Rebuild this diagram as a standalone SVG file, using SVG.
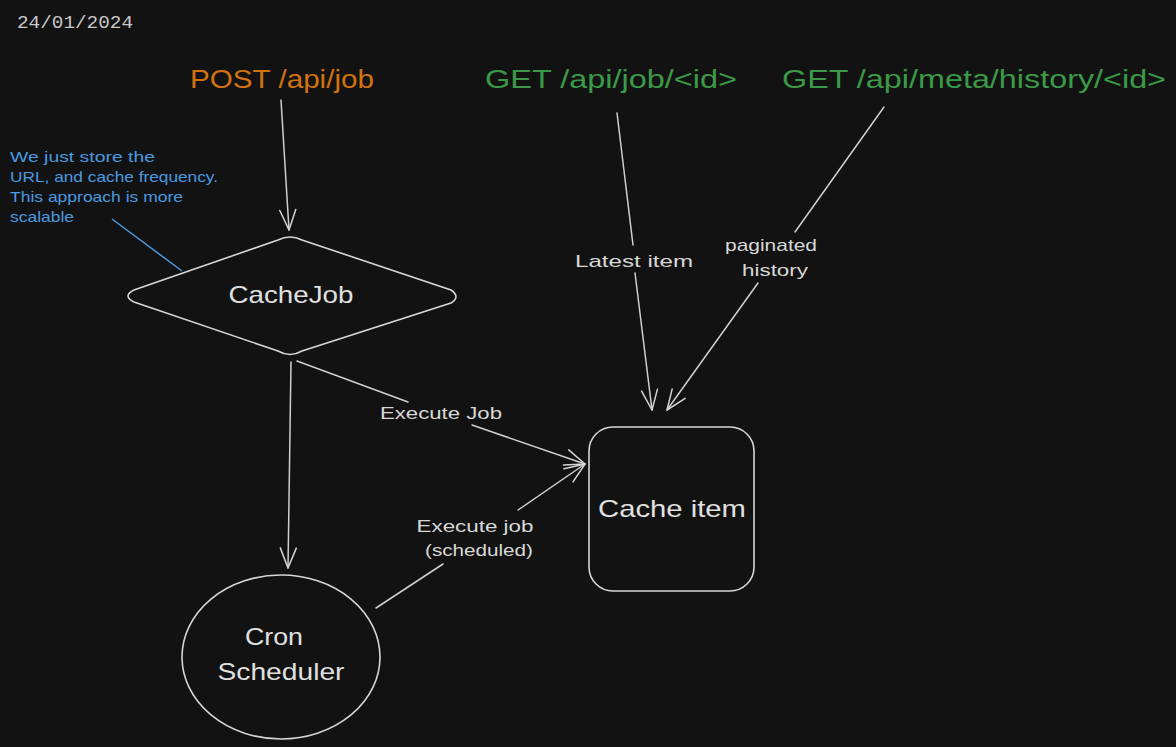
<svg xmlns="http://www.w3.org/2000/svg" width="1176" height="747" viewBox="0 0 1176 747">
<defs>
<style>
.hand{font-family:"Liberation Sans","Open Sans",sans-serif;}
.lbl{font-size:17px;fill:#d8d8d8;text-anchor:middle;}
.node{font-size:24px;fill:#e0e0e0;text-anchor:middle;}
.api{font-size:26px;text-anchor:middle;}
.shape{fill:none;stroke:#d6d6d6;stroke-width:1.6;}
.conn{fill:none;stroke:#d0d0d0;stroke-width:1.5;stroke-linecap:round;}
.note{font-size:15px;fill:#4a9ae0;}
</style>
<marker id="arr" viewBox="-22 -12 24 24" markerWidth="24" markerHeight="24" refX="0" refY="0" orient="auto" markerUnits="userSpaceOnUse">
<path d="M-20,-8 L0,0 L-20,8" fill="none" stroke="#d6d6d6" stroke-width="1.5" stroke-linecap="round" stroke-linejoin="round"/>
</marker>
</defs>
<rect width="1176" height="747" fill="#121212"/>
<text x="17" y="28" font-family="'Liberation Mono','DejaVu Sans Mono',monospace" font-size="18" fill="#c8c8c8" textLength="116" lengthAdjust="spacingAndGlyphs">24/01/2024</text>

<g id="post-api" class="hand">
<text class="api" x="282" y="88" fill="#d0720f" textLength="184" lengthAdjust="spacingAndGlyphs">POST /api/job</text>
</g>
<g id="get-job" class="hand">
<text class="api" x="611" y="88" fill="#3a9a47" textLength="252" lengthAdjust="spacingAndGlyphs">GET /api/job/&lt;id&gt;</text>
</g>
<g id="get-history" class="hand">
<text class="api" x="974" y="88" fill="#3a9a47" textLength="384" lengthAdjust="spacingAndGlyphs">GET /api/meta/history/&lt;id&gt;</text>
</g>

<g id="note" class="hand">
<text class="note" x="10" y="162" textLength="145" lengthAdjust="spacingAndGlyphs">We just store the</text>
<text class="note" x="10" y="182" textLength="208" lengthAdjust="spacingAndGlyphs">URL, and cache frequency.</text>
<text class="note" x="10" y="202" textLength="173" lengthAdjust="spacingAndGlyphs">This approach is more</text>
<text class="note" x="10" y="222" textLength="64" lengthAdjust="spacingAndGlyphs">scalable</text>
<line x1="112" y1="219" x2="182" y2="271" stroke="#4a9ae0" stroke-width="1.5"/>
</g>

<g id="cachejob" class="hand">
<path class="shape" d="M278,240 Q290,234 302,240 L451,290 Q461,297 451,303 L302,351 Q290,358 278,351 L134,302 Q122,296 134,290 Z"/>
<text class="node" x="291" y="303" textLength="125" lengthAdjust="spacingAndGlyphs">CacheJob</text>
</g>

<g id="cron" class="hand">
<ellipse class="shape" cx="281" cy="657" rx="99" ry="82"/>
<text class="node" x="274" y="645" textLength="58" lengthAdjust="spacingAndGlyphs">Cron</text>
<text class="node" x="281" y="680" textLength="127" lengthAdjust="spacingAndGlyphs">Scheduler</text>
</g>

<g id="cache-item" class="hand">
<rect class="shape" x="589" y="427" width="165" height="164" rx="24"/>
<text class="node" x="672" y="517" textLength="148" lengthAdjust="spacingAndGlyphs">Cache item</text>
</g>

<g id="connectors" class="hand">
<path class="conn" d="M281,100 L289,230" marker-end="url(#arr)"/>
<path class="conn" d="M291,362 L288,568" marker-end="url(#arr)"/>
<path class="conn" d="M297,361 L408,402"/>
<path class="conn" d="M472,425 L585,464" marker-end="url(#arr)"/>
<text class="lbl" x="441" y="419" textLength="122" lengthAdjust="spacingAndGlyphs">Execute Job</text>
<path class="conn" d="M376,608 L443,564"/>
<path class="conn" d="M518,510 L585,464" marker-end="url(#arr)"/>
<text class="lbl" x="475" y="532" textLength="117" lengthAdjust="spacingAndGlyphs">Execute job</text>
<text class="lbl" x="479" y="556" textLength="108" lengthAdjust="spacingAndGlyphs">(scheduled)</text>
<path class="conn" d="M617,113 L633,245"/>
<path class="conn" d="M635,273 L652,410" marker-end="url(#arr)"/>
<text class="lbl" x="634" y="267" textLength="118" lengthAdjust="spacingAndGlyphs">Latest item</text>
<path class="conn" d="M884,107 L795,232" stroke="#a8a8a8" stroke-width="2"/>
<path class="conn" d="M758,283 L667,410" marker-end="url(#arr)"/>
<text class="lbl" x="771" y="251" textLength="92" lengthAdjust="spacingAndGlyphs">paginated</text>
<text class="lbl" x="775" y="276" textLength="66" lengthAdjust="spacingAndGlyphs">history</text>
</g>
</svg>
